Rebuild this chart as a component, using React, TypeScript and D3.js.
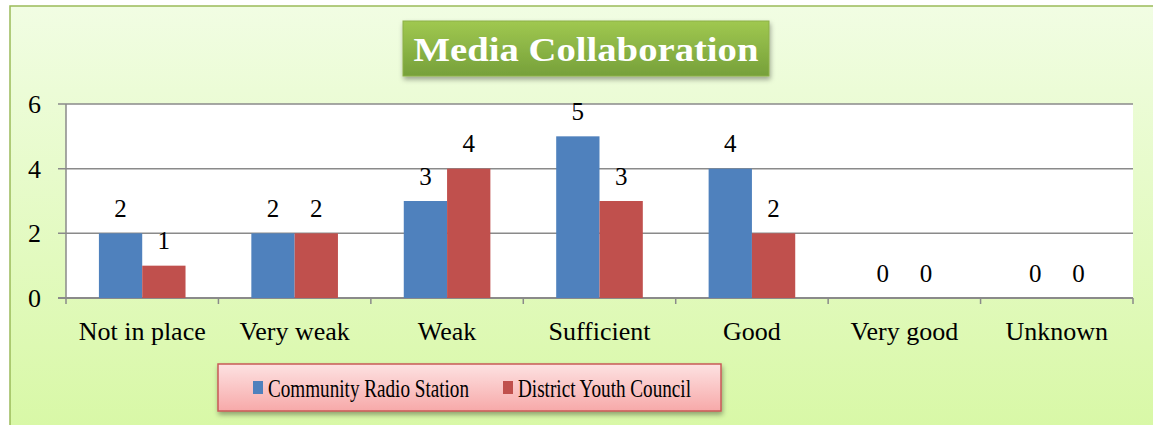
import { useMemo } from "react";
import * as d3 from "d3";

const categories = ["Not in place", "Very weak", "Weak", "Sufficient", "Good", "Very good", "Unknown"];
const radioValues = [2, 2, 3, 5, 4, 0, 0];
const councilValues = [1, 2, 4, 3, 2, 0, 0];
const seriesNames = ["Community Radio Station", "District Youth Council"];
const seriesColors = ["#4f81bd", "#c0504d"];
const yTicks = [0, 2, 4, 6];

const W = 1153;
const H = 425;
const plot = { left: 66, top: 104, right: 1133, bottom: 298 };
const serif = "'Liberation Serif', 'DejaVu Serif', serif";

export default function App() {
  const x = useMemo(
    () => d3.scaleBand<string>().domain(categories).range([plot.left, plot.right]).paddingInner(0).paddingOuter(0),
    []
  );
  const y = useMemo(() => d3.scaleLinear().domain([0, 6]).range([plot.bottom, plot.top]), []);
  const inner = useMemo(
    () => d3.scaleBand<number>().domain([0, 1]).range([0, x.bandwidth()]).paddingInner(0).paddingOuter(0.76),
    [x]
  );

  const series = [radioValues, councilValues];

  return (
    <svg width={W} height={H} style={{ position: "absolute", left: 0, top: 0 }}>
      <defs>
        <linearGradient id="bg" x1="0" y1="0" x2="0" y2="1">
          <stop offset="0" stopColor="#f1fde3" />
          <stop offset="1" stopColor="#d8f8a6" />
        </linearGradient>
        <linearGradient id="titleFill" x1="0" y1="0" x2="0" y2="1">
          <stop offset="0" stopColor="#a0c850" />
          <stop offset="1" stopColor="#76a03a" />
        </linearGradient>
        <linearGradient id="legendFill" x1="0" y1="0" x2="0" y2="1">
          <stop offset="0" stopColor="#fde2e2" />
          <stop offset="1" stopColor="#f7a9a9" />
        </linearGradient>
        <filter id="shadow" x="-10%" y="-20%" width="120%" height="160%">
          <feDropShadow dx="1" dy="3" stdDeviation="2.5" floodColor="#000" floodOpacity="0.35" />
        </filter>
      </defs>

      <rect x={10} y={6} width={W} height={H} fill="url(#bg)" stroke="#9bbb59" strokeWidth={1.5} />

      {/* title */}
      <g filter="url(#shadow)">
        <rect x={403} y={21} width={366} height={55} fill="url(#titleFill)" stroke="#8cb048" strokeWidth={1} />
      </g>
      <text
        x={586}
        y={61}
        textAnchor="middle"
        fill="white"
        fontFamily={serif}
        fontWeight="bold"
        fontSize={34}
        textLength={345}
        lengthAdjust="spacingAndGlyphs"
      >
        Media Collaboration
      </text>

      {/* plot area */}
      <rect x={plot.left} y={plot.top} width={plot.right - plot.left} height={plot.bottom - plot.top} fill="white" />
      {yTicks.map((t) => (
        <g key={t}>
          <line x1={plot.left - 8} x2={plot.right} y1={y(t)} y2={y(t)} stroke="#8a8a8a" strokeWidth={t === 0 ? 2 : 1.5} />
          <text x={41} y={y(t)} dy="0.35em" textAnchor="end" fontFamily={serif} fontSize={26} fill="#000">
            {t}
          </text>
        </g>
      ))}
      <line x1={plot.left} x2={plot.left} y1={plot.top} y2={plot.bottom + 6} stroke="#8a8a8a" strokeWidth={1.5} />
      {categories.map((c, i) => (
        <line
          key={"t" + i}
          x1={(x(c) ?? 0) + x.bandwidth()}
          x2={(x(c) ?? 0) + x.bandwidth()}
          y1={plot.bottom}
          y2={plot.bottom + 6}
          stroke="#8a8a8a"
          strokeWidth={1.5}
        />
      ))}

      {/* bars */}
      {series.map((vals, s) =>
        vals.map((v, i) => {
          const bx = (x(categories[i]) ?? 0) + (inner(s) ?? 0);
          const bw = inner.bandwidth();
          return (
            <g key={s + "-" + i}>
              {v > 0 && <rect x={bx} y={y(v)} width={bw} height={y(0) - y(v)} fill={seriesColors[s]} />}
              <text
                x={bx + bw / 2}
                y={y(v) - 25}
                dy="0.35em"
                textAnchor="middle"
                fontFamily={serif}
                fontSize={25}
                fill="#000"
              >
                {v}
              </text>
            </g>
          );
        })
      )}

      {/* category labels */}
      {categories.map((c) => (
        <text
          key={c}
          x={(x(c) ?? 0) + x.bandwidth() / 2}
          y={331}
          dy="0.35em"
          textAnchor="middle"
          fontFamily={serif}
          fontSize={26}
          fill="#000"
        >
          {c}
        </text>
      ))}

      {/* legend */}
      <g filter="url(#shadow)">
        <rect x={218} y={364} width={503} height={47} fill="url(#legendFill)" stroke="#c85a57" strokeWidth={1.5} />
      </g>
      {seriesNames.map((n, s) => {
        const lx = s === 0 ? 253 : 503;
        return (
          <g key={n}>
            <rect x={lx} y={381} width={10} height={13} fill={seriesColors[s]} />
            <text
              x={lx + 15}
              y={388}
              dy="0.35em"
              fontFamily={serif}
              fontSize={26}
              fill="#000"
              textLength={s === 0 ? 201 : 173}
              lengthAdjust="spacingAndGlyphs"
            >
              {n}
            </text>
          </g>
        );
      })}
    </svg>
  );
}
